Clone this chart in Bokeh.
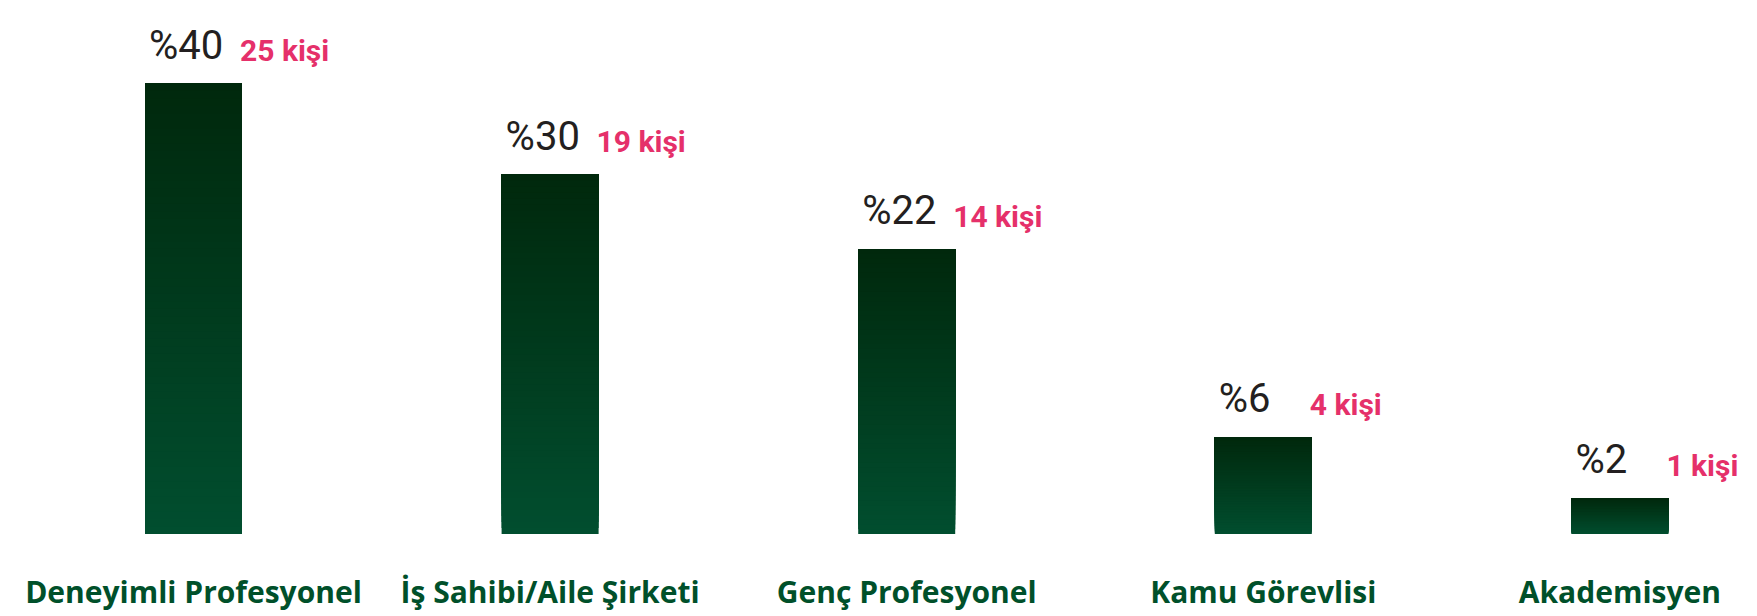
import numpy as np
from bokeh.plotting import figure
from bokeh.models import ColumnDataSource, Range1d
from bokeh.core.properties import value
from bokeh.embed import file_html
from bokeh.resources import INLINE

# ---- data ----
categories = ["Deneyimli Profesyonel", "İş Sahibi/Aile Şirketi", "Genç Profesyonel",
              "Kamu Görevlisi", "Akademisyen"]
percent_labels = ["%40", "%30", "%22", "%6", "%2"]
person_counts = [25, 19, 14, 4, 1]
# drawn bar heights, as they appear in the picture (in % units of the tallest bar)
bar_heights = [40, 31.9, 25.3, 8.6, 3.2]

# ---- layout / style ----
W, H = 1757, 616
PX_PER_UNIT = 11.2625          # vertical pixels per height unit
BASE_PX = 533.5                # bar baseline, px from top of figure
SPACING_PX = 356.6             # px between category centres
FIRST_PX = 193.0               # px of first category centre
BAR_W = 97 / SPACING_PX

PCT_COLOR = "#231f20"
PINK = "#e5306a"
GREEN = "#00502a"
TOP_RGB = np.array([0, 40, 12])
BOT_RGB = np.array([1, 78, 47])

PCT_SIZE, CNT_SIZE, CAT_SIZE = 40, 30, 30
SHIFT = 0.36   # empirical baseline correction (fraction of font size)

x_start = -FIRST_PX / SPACING_PX
x_end = x_start + W / SPACING_PX
y_end = BASE_PX / PX_PER_UNIT
y_start = -(H - BASE_PX) / PX_PER_UNIT

p = figure(width=W, height=H, output_backend="svg", toolbar_location=None,
           x_range=Range1d(x_start, x_end), y_range=Range1d(y_start, y_end),
           x_axis_type=None, y_axis_type=None,
           min_border=0, min_border_left=0, min_border_right=0,
           min_border_top=0, min_border_bottom=0)
p.grid.visible = False
p.outline_line_color = None
p.background_fill_color = "white"
p.border_fill_color = "white"

idx = list(range(len(categories)))

# gradient bars: stacked bands, each band from its start up to the bar top
N = 60
bx, bb, bt, bc = [], [], [], []
for i, h in zip(idx, bar_heights):
    for k in range(N):
        f = (k + 0.5) / N
        rgb = BOT_RGB * (1 - f) + TOP_RGB * f
        bx.append(i)
        bb.append(h * k / N)
        bt.append(h)
        bc.append("#%02x%02x%02x" % tuple(int(round(c)) for c in rgb))
p.vbar(x="x", bottom="bottom", top="top", width=BAR_W, fill_color="color",
       line_color=None, source=ColumnDataSource(dict(x=bx, bottom=bb, top=bt, color=bc)))

GAP_PX = 24
lab_src = ColumnDataSource(dict(
    xl=[i - BAR_W / 2 for i in idx],
    xr=[i + BAR_W / 2 for i in idx],
    y=[h + (GAP_PX + SHIFT * PCT_SIZE) / PX_PER_UNIT for h in bar_heights],
    y2=[h + (GAP_PX - 2 + SHIFT * CNT_SIZE) / PX_PER_UNIT for h in bar_heights],
    pct=percent_labels,
    cnt=[f"{c} kişi" for c in person_counts],
))
p.text(x="xl", y="y", text="pct", source=lab_src, x_offset=4,
       text_font=value("Roboto"), text_font_size=f"{PCT_SIZE}px", text_color=PCT_COLOR,
       text_align="left", text_baseline="alphabetic")
p.text(x="xr", y="y2", text="cnt", source=lab_src, x_offset=-2,
       text_font=value("Roboto"), text_font_size=f"{CNT_SIZE}px", text_font_style="bold",
       text_color=PINK, text_align="left", text_baseline="alphabetic")

cat_y = -(68.5 - SHIFT * CAT_SIZE) / PX_PER_UNIT
cat_src = ColumnDataSource(dict(x=idx, y=[cat_y] * len(idx), t=categories))
p.text(x="x", y="y", text="t", source=cat_src,
       text_font=value("Open Sans"), text_font_size=f"{CAT_SIZE}px", text_font_style="bold",
       text_color=GREEN, text_align="center", text_baseline="alphabetic")

open("out.html", "w").write(file_html(p, INLINE))
